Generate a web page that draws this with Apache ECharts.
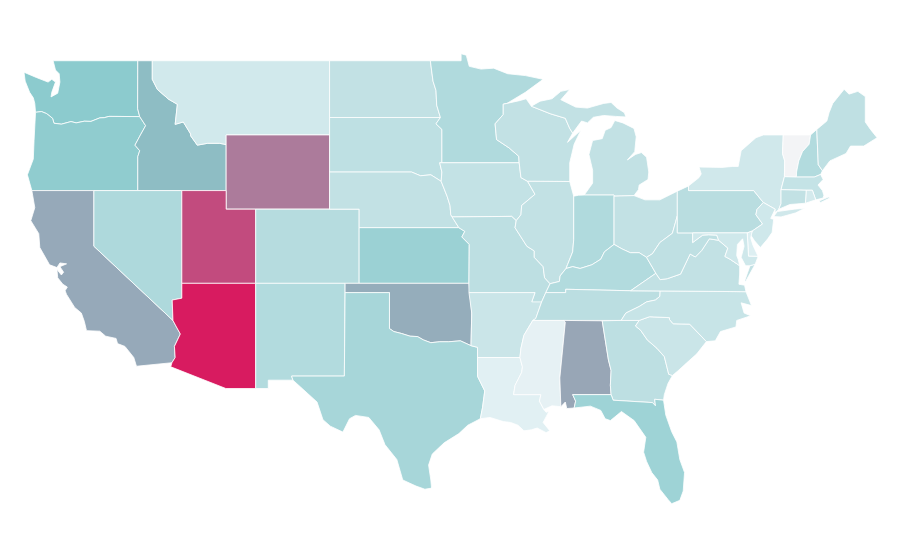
<!DOCTYPE html>
<html>
<head>
<meta charset="utf-8">
<title>USA</title>
<script src="https://cdn.jsdelivr.net/npm/echarts@6/dist/echarts.min.js"></script>
<style>
html,body{margin:0;padding:0;background:#fff}
#main{width:900px;height:560px}
</style>
</head>
<body>
<div id="main"></div>
<script>
// values, one per state
var stateNames = ['Washington','Oregon','California','Idaho','Nevada','Montana','Wyoming','Utah','Arizona','Colorado','New Mexico',
	'North Dakota','South Dakota','Nebraska','Kansas','Oklahoma','Texas','Minnesota','Iowa','Missouri','Arkansas','Louisiana',
	'Wisconsin','Illinois','Michigan','Indiana','Ohio','Kentucky','Tennessee','Mississippi','Alabama','Georgia','Florida',
	'South Carolina','North Carolina','Virginia','West Virginia','Pennsylvania','New York','Vermont','New Hampshire','Maine',
	'Massachusetts','Rhode Island','Connecticut','New Jersey','Delaware','Maryland'];
var stateValues = [48,46.5,59,53.5,33,18,72.5,86,100,29,31,
	24,25.5,24,41.5,58,36,32,23.5,26,21,12,
	24,24,24,32,24,31,27,8.5,60,26,40,
	21,22,24,25,28,18.5,0,31,25,
	23,17,24,19,13.5,19];
var colorStops = ['#f3f4f6','#e0f0f3','#bfe0e3','#a4d5d8','#88c9cc','#9c9db1','#b07296','#c4467b','#d81b60'];

// shared borders, lon/lat
var columbia = [[-118.98,46],[-119.3,45.93],[-119.6,45.92],[-120.2,45.73],[-120.65,45.74],[-121.2,45.65],[-121.55,45.72],[-122.2,45.58],[-122.7,45.63],[-122.8,45.9],[-123.2,46.15],[-123.55,46.26],[-123.95,46.22]];
var snake = [[-117.03,43.83],[-116.9,44.15],[-117.22,44.45],[-116.85,45],[-116.5,45.5],[-116.9,45.99]];
var idMt = [[-116.05,49],[-116.05,48],[-115.7,47.45],[-114.95,46.93],[-114.35,46.65],[-114.5,45.57],[-113.95,45.7],[-113.45,45.05],[-113.45,44.95],[-113,44.45],[-112.3,44.55],[-111.5,44.55],[-111.05,44.48]];
var coloradoR = [[-114.72,32.72],[-114.5,33],[-114.55,33.6],[-114.15,34.27],[-114.45,34.7],[-114.65,35]];
var redRiver = [[-94.48,33.64],[-95.2,33.9],[-96,33.85],[-96.6,33.85],[-97.2,33.8],[-97.7,33.95],[-98.1,34.13],[-98.6,34.15],[-99.2,34.3],[-99.7,34.4],[-100,34.56]];
var sabine = [[-94.04,31.99],[-93.55,31.2],[-93.7,30.3],[-93.85,29.7]];
var redNd = [[-97.23,49],[-97.15,48.5],[-97.05,47.9],[-96.85,47.4],[-96.8,46.6],[-96.55,45.94]];
var mnSd = [[-96.55,45.94],[-96.85,45.6],[-96.45,45.3],[-96.45,43.5]];
var missouriNe = [[-98.5,43],[-97.9,42.8],[-97.2,42.85],[-96.5,42.5]];
var iaNe = [[-96.5,42.5],[-96.1,41.7],[-95.9,41.2],[-95.85,40.7],[-95.76,40.58]];
var moKs = [[-95.76,40.58],[-95.3,40],[-94.9,39.8],[-95.1,39.5],[-94.6,39.1],[-94.62,37]];
var mnWi = [[-92.05,46.7],[-92.3,46.66],[-92.3,46.1],[-92.85,45.6],[-92.75,44.75],[-91.9,44.3],[-91.25,43.85],[-91.22,43.5]];
var wiIa = [[-91.22,43.5],[-91.1,42.7],[-90.65,42.5]];
var iaIl = [[-90.65,42.5],[-90.15,41.8],[-91.05,41.2],[-91.1,40.7],[-91.42,40.38]];
var moIl = [[-91.42,40.38],[-91.5,40],[-91.1,39.5],[-90.7,39],[-90.2,38.75],[-90.2,38.4],[-89.6,37.9],[-89.5,37.3],[-89.13,36.98]];
var ohioIl = [[-89.13,36.98],[-88.5,37.1],[-88.45,37.4],[-88.05,37.8]];
var ohioIn = [[-88.05,37.8],[-87.6,37.9],[-87.1,37.8],[-86.3,38],[-85.7,38.3],[-85.45,38.7],[-84.8,39.1]];
var ohioOhKy = [[-84.8,39.1],[-84.25,38.85],[-83.7,38.65],[-83.1,38.65],[-82.6,38.4]];
var ohioOhWv = [[-82.6,38.4],[-82.2,38.6],[-81.7,39.2],[-80.85,39.7],[-80.52,40.64]];
var wabash = [[-87.53,39.35],[-87.6,38.7],[-87.95,38],[-88.05,37.8]];
var moTnAr = [[-89.42,36.5],[-89.7,36],[-90.1,35.1],[-90.3,35]];
var msAr = [[-90.3,35],[-90.9,34.2],[-91.1,33.5],[-91.17,33]];
var msLa = [[-91.17,33],[-91,32.5],[-91.05,32.2],[-91.5,31.5],[-91.6,31],[-89.75,31],[-89.85,30.65],[-89.55,30.2]];
var msAl = [[-88.2,35],[-88.1,34.9],[-88.47,31.9],[-88.4,30.35]];
var alGa = [[-85.6,34.98],[-85.18,32.87],[-85,32.3],[-85.05,31.5],[-85,31]];
var alFl = [[-85,31],[-87.6,31],[-87.4,30.65],[-87.5,30.28]];
var gaFl = [[-85,31],[-84.86,30.7],[-82.2,30.57],[-82,30.4],[-82.05,30.75],[-81.45,30.7]];
var gaSc = [[-83.1,35],[-83.35,34.7],[-83,34.47],[-82.55,33.95],[-81.9,33.5],[-81.4,33.05],[-81.1,32.1],[-80.85,32.03]];
var ncSc = [[-83.1,35],[-82.4,35.2],[-81.05,35.15],[-81.05,35.05],[-80.8,34.82],[-79.68,34.8],[-78.55,33.86]];
var tnNc = [[-84.32,35],[-84,35.4],[-83.1,35.75],[-82.6,36],[-82,36.1],[-81.7,36.3],[-81.68,36.59]];
var kyVa = [[-83.68,36.6],[-81.97,37.54]];
var vaWv = [[-81.97,37.54],[-81.68,37.2],[-81.2,37.25],[-80.3,37.5],[-79.65,38.58],[-79.3,38.42],[-78.87,38.77],[-78.35,39.4],[-77.72,39.32]];
var mdWv = [[-79.48,39.2],[-78.8,39.6],[-78.4,39.62],[-77.85,39.6],[-77.72,39.32]];
var potomac = [[-77.72,39.32],[-77.1,38.9],[-77.3,38.45],[-76.95,38.3],[-76.3,37.95]];
var paNj = [[-74.7,41.36],[-75.13,40.98],[-75.2,40.7],[-74.75,40.2],[-75.45,39.82]];
var vtNh = [[-71.5,45],[-71.6,44.5],[-72.05,44.1],[-72.3,43.6],[-72.45,43],[-72.46,42.73]];
var nyVt = [[-73.35,45],[-73.4,44],[-73.25,43.6],[-73.27,42.75]];
var nyNe = [[-73.27,42.75],[-73.5,42.05],[-73.5,41.3],[-73.65,41]];
var meNh = [[-71.08,45.3],[-70.98,43.4],[-70.7,43.07]];

function rev(c) { return c.slice().reverse(); }
function ring() { return [].concat.apply([], arguments); }

var stateShapes = {
	'Washington': [ring([[-122.76,49],[-117.03,49],[-117.04,46.42],[-116.9,45.99]], columbia, [[-124,46.7],[-124.1,47],[-124.35,47.3],[-124.65,47.9],[-124.73,48.38],[-123.9,48.1],[-123.1,47.85],[-122.85,48],[-122.6,47.85],[-122.85,47.3],[-122.9,47.05],[-122.45,47.25],[-122.3,47.85],[-122.35,48.3],[-122.6,48.5]])],
	'Oregon': [ring([[-124.2,42],[-124.5,42.85],[-124.1,43.7],[-124.05,44.7]], rev(columbia), [[-116.9,45.99]], rev(snake), [[-117.03,42]])],
	'California': [ring([[-124.2,42],[-120,42],[-120,39]], [[-114.65,35]], rev(coloradoR), [[-117.12,32.53],[-117.3,33],[-117.9,33.6],[-118.4,33.75],[-118.5,34.03],[-119.2,34.15],[-119.6,34.42],[-120.5,34.45],[-120.65,34.95],[-120.85,35.4],[-121.3,35.7],[-121.85,36.4],[-121.95,36.6],[-121.8,36.8],[-122.1,36.95],[-122.45,37.3],[-122.5,37.75],[-122.2,37.45],[-122.05,37.6],[-122.3,37.9],[-121.85,38.05],[-122.3,38.1],[-122.5,37.85],[-123,38],[-123.66,38.93],[-123.73,39.68],[-124.27,40.38],[-124,41.08]])],
	'Idaho': [ring([[-117.03,49]], idMt, [[-111.05,42],[-117.03,42]], snake, [[-117.04,46.42]])],
	'Nevada': [[[-120,42],[-114.05,42],[-114.05,36.2],[-114.7,36.1],[-114.65,35],[-120,39]]],
	'Montana': [ring(idMt, [[-111.05,45],[-104.05,45],[-104.05,49]])],
	'Wyoming': [[[-111.05,45],[-104.05,45],[-104.05,41],[-111.05,41]]],
	'Utah': [[[-114.05,42],[-111.05,42],[-111.05,41],[-109.05,41],[-109.05,37],[-114.05,37]]],
	'Arizona': [ring([[-114.05,37],[-109.05,37],[-109.05,31.33],[-111.07,31.33],[-114.8,32.5]], coloradoR, [[-114.7,36.1],[-114.05,36.2]])],
	'Colorado': [[[-109.05,41],[-102.05,41],[-102.05,37],[-109.05,37]]],
	'New Mexico': [[[-109.05,37],[-103,37],[-103.05,32],[-106.62,32],[-106.53,31.78],[-108.2,31.78],[-108.2,31.33],[-109.05,31.33]]],
	'North Dakota': [ring([[-104.05,49]], redNd, [[-104.05,45.94]])],
	'South Dakota': [ring([[-104.05,45.94]], mnSd, [[-96.6,43.5],[-96.45,43]], rev(missouriNe), [[-104.05,43]])],
	'Nebraska': [ring([[-104.05,43]], missouriNe, iaNe, [[-95.3,40],[-102.05,40],[-102.05,41],[-104.05,41]])],
	'Kansas': [ring([[-102.05,40]], moKs.slice(1), [[-102.05,37]])],
	'Oklahoma': [ring([[-103,37],[-94.62,37],[-94.43,35.4]], redRiver, [[-100,36.5],[-103,36.5]])],
	'Texas': [ring([[-106.62,32],[-103.05,32],[-103,36.5],[-100,36.5]], rev(redRiver), [[-94.04,33.55],[-94.04,33]], sabine, [[-94.7,29.35],[-95.3,28.9],[-96.3,28.4],[-97.1,27.8],[-97.35,27.2],[-97.2,26.4],[-97.15,25.96],[-97.6,25.9],[-98.2,26.07],[-99.1,26.4],[-99.5,27.5],[-100.3,28.3],[-100.7,29.1],[-101.4,29.77],[-102.3,29.88],[-102.7,29.7],[-103.15,28.98],[-104,29.3],[-104.5,29.65],[-104.9,30.6],[-106,31.4],[-106.53,31.78]])],
	'Minnesota': [ring(redNd.slice(0,1), [[-95.15,49],[-95.15,49.38],[-94.8,49.3],[-94.6,48.7],[-93.8,48.55],[-92.95,48.6],[-92,48.3],[-90.8,48.2],[-89.6,48],[-90.8,47.3]], mnWi, [[-96.45,43.5]], rev(mnSd), rev(redNd).slice(1))],
	'Iowa': [ring([[-96.45,43.5]], wiIa, iaIl, [[-91.73,40.61]], rev(iaNe), [[-96.45,43],[-96.6,43.5]])],
	'Missouri': [ring([[-95.76,40.58],[-91.73,40.61]], moIl, moTnAr, [[-90.37,36],[-90.15,36.5],[-94.62,36.5]], rev(moKs))],
	'Arkansas': [ring([[-94.62,36.5],[-90.15,36.5],[-90.37,36],[-89.7,36]], moTnAr.slice(2), msAr, [[-94.04,33],[-94.04,33.55],[-94.48,33.64],[-94.43,35.4]])],
	'Louisiana': [ring([[-94.04,33]], msLa, [[-89.4,30.05],[-89.2,30.1],[-89.4,29.8],[-89.6,29.5],[-89.15,29.05],[-89.4,28.95],[-90,29.2],[-90.4,29.1],[-90.9,29.05],[-91.3,29.35],[-91.8,29.5],[-92.3,29.55],[-93.2,29.77]], rev(sabine))],
	'Wisconsin': [ring(mnWi, wiIa.slice(1), [[-87.8,42.49],[-87.8,43.5],[-87.5,44.5],[-87.05,45.25],[-87.95,44.6],[-87.6,45.1],[-87.8,45.35],[-88.1,45.9],[-89.1,46.14],[-90.4,46.55],[-90.75,46.95],[-91.2,46.85]])],
	'Illinois': [ring(iaIl.slice(0,1), [[-87.8,42.49],[-87.53,41.7]], wabash, rev(ohioIl), rev(moIl), rev(iaIl).slice(1))],
	'Michigan': [
		[[-90.4,46.55],[-89.8,46.82],[-89,46.95],[-88.4,47.35],[-87.8,47.45],[-88.4,46.9],[-87.4,46.5],[-86.6,46.45],[-85.5,46.7],[-85,46.75],[-84.6,46.45],[-84.1,46.2],[-84,45.97],[-84.7,46],[-85.5,46.05],[-86.2,45.95],[-86.6,45.65],[-87,45.75],[-87.6,45.1],[-87.8,45.35],[-88.1,45.9],[-89.1,46.14]],
		[[-86.82,41.76],[-84.8,41.76],[-84.8,41.7],[-83.45,41.73],[-83.15,42.05],[-83.1,42.3],[-82.5,42.6],[-82.45,43],[-82.6,43.8],[-82.95,44.05],[-83.35,43.95],[-83.9,43.65],[-83.4,44.1],[-83.3,44.9],[-83.45,45.35],[-84.2,45.65],[-84.75,45.78],[-85,45.4],[-85.4,45.25],[-85.6,44.8],[-86.25,44.7],[-86.5,43.95],[-86.25,43.1],[-86.25,42.4]]
	],
	'Indiana': [ring([[-87.53,41.7],[-87.2,41.75],[-86.82,41.76],[-84.8,41.76]], rev(ohioIn), rev(wabash))],
	'Ohio': [ring([[-84.8,41.7],[-83.45,41.73],[-82.7,41.5],[-81.7,41.5],[-80.52,41.97]], rev(ohioOhWv), rev(ohioOhKy))],
	'Kentucky': [ring([[-89.42,36.5]], ohioIl, ohioIn, ohioOhKy, rev(kyVa), [[-88.07,36.68],[-88.07,36.5]])],
	'Tennessee': [ring(rev(moTnAr), [[-89.42,36.5],[-88.07,36.5],[-88.07,36.68],[-83.68,36.6],[-81.68,36.59]], rev(tnNc), [[-90.3,35]])],
	'Mississippi': [ring(rev(msLa), rev(msAr), msAl, [[-89,30.4]])],
	'Alabama': [ring(msAl, [[-88.1,30.6],[-88,30.25],[-87.5,30.28]], rev(alFl), rev(alGa))],
	'Georgia': [ring(alGa, gaFl, [[-81.4,31],[-81.15,31.6]], rev(gaSc), [[-84.32,35]])],
	'Florida': [ring(rev(alFl), gaFl, [[-81.3,29.9],[-80.9,29],[-80.55,28.45],[-80.35,27.5],[-80.03,26.8],[-80.12,25.8],[-80.35,25.3],[-80.9,25.12],[-81.15,25.35],[-81.7,25.9],[-81.85,26.4],[-82.25,26.8],[-82.6,27.4],[-82.8,27.9],[-82.65,28.7],[-83.44,29.6],[-84.3,30.09],[-85.05,29.6],[-85.4,29.7],[-85.7,30.15],[-86.4,30.38]])],
	'South Carolina': [ring(ncSc, [[-79.2,33.2],[-79.9,32.7],[-80.45,32.3]], rev(gaSc))],
	'North Carolina': [ring(tnNc, [[-75.87,36.55],[-75.5,35.8],[-76.2,35.95],[-76,35.4],[-75.55,35.25],[-76.5,35],[-76.55,34.65],[-77.6,34.4],[-77.95,33.9]], rev(ncSc), [[-84.32,35]])],
	'Virginia': [
		ring([[-83.68,36.6]], kyVa, vaWv, potomac, [[-76.3,37.5],[-76.35,36.95],[-75.97,36.9],[-75.87,36.55],[-81.68,36.59]]),
		[[-75.95,37.15],[-75.6,37.95],[-75.25,38.03],[-75.9,37.1]]
	],
	'West Virginia': [ring(rev(ohioOhWv), vaWv, rev(mdWv), [[-79.48,39.72],[-80.52,39.72]])],
	'Pennsylvania': [ring([[-80.52,41.97],[-79.76,42.25],[-79.76,42],[-75.35,42]], paNj, [[-75.79,39.72],[-80.52,39.72]])],
	'New York': [
		ring([[-79.76,42.25],[-79.05,42.7],[-78.9,42.9],[-79.05,43.27],[-77.5,43.25],[-76.8,43.3],[-76.4,43.3],[-76.2,44.15],[-75.2,44.85],[-74.7,45]], nyVt, nyNe, [[-73.9,40.8],[-73.9,41],[-74.7,41.36],[-75.35,42],[-79.76,42]]),
		[[-74,40.6],[-73.75,40.87],[-72.6,41],[-71.9,41.05],[-72.5,40.8],[-73.5,40.58]]
	],
	'Vermont': [ring(nyVt, rev(vtNh))],
	'New Hampshire': [ring(vtNh, [[-71.25,42.73],[-70.82,42.87]], rev(meNh))],
	'Maine': [ring(meNh, [[-70.2,43.6],[-69.1,44],[-68.8,44.4],[-67.9,44.4],[-67,44.85],[-67.45,45.3],[-67.8,45.7],[-67.8,47.07],[-68.3,47.35],[-68.9,47.2],[-69.23,47.46],[-70,46.7],[-70.25,46.2],[-70.4,45.75]])],
	'Massachusetts': [
		[[-73.27,42.75],[-72.46,42.73],[-71.25,42.73],[-70.82,42.87],[-70.65,42.6],[-71,42.3],[-70.7,42],[-70.6,41.75],[-70.65,41.6],[-71.15,41.5],[-71.38,42.02],[-71.8,42.02],[-73.5,42.05]],
		[[-70.9,41.45],[-70.3,41.65],[-70.2,41.6],[-70.85,41.35]]
	],
	'Rhode Island': [[[-71.8,42.02],[-71.38,42.02],[-71.15,41.5],[-71.85,41.32]]],
	'Connecticut': [[[-73.5,42.05],[-71.8,42.02],[-71.85,41.32],[-72.9,41.25],[-73.65,41],[-73.5,41.3]]],
	'New Jersey': [ring(paNj.slice(0,1), [[-73.9,41],[-74.2,40.5],[-74,40.45],[-74.1,39.75],[-74.4,39.4],[-74.9,38.93],[-75.3,39.3],[-75.55,39.6]], rev(paNj).slice(0,4))],
	'Delaware': [[[-75.79,39.72],[-75.45,39.82],[-75.55,39.45],[-75.4,39.05],[-75.05,38.45],[-75.7,38.46]]],
	'Maryland': [ring([[-79.48,39.72],[-75.79,39.72],[-75.7,38.46],[-75.05,38.45],[-75.25,38.03],[-75.6,37.95],[-75.9,37.95],[-76.2,38.4],[-76,39],[-76.1,39.4],[-76.45,39.1],[-76.5,38.5],[-76.4,38.3],[-76.3,37.95]], rev(potomac), rev(mdWv))]
};

var usaGeo = {
	type: 'FeatureCollection',
	features: stateNames.map(function (name) {
		return {
			type: 'Feature',
			properties: {name: name},
			geometry: {type: 'MultiPolygon', coordinates: stateShapes[name].map(function (r) { return [r]; })}
		};
	})
};
echarts.registerMap('USA', usaGeo);

var myChart = echarts.init(document.getElementById('main'));
var option = {
	animation: false,
	visualMap: {
		show: false,
		min: 0,
		max: 100,
		inRange: {color: colorStops}
	},
	series: [
		{
			type: 'map',
			map: 'USA',
			roam: false,
			silent: true,
			aspectScale: 0.796,
			boundingCoords: [[-124.73, 49.38], [-66.6, 25.12]],
			left: 24,
			top: 53.7,
			width: 859,
			height: 450,
			label: {show: false},
			itemStyle: {borderColor: '#fff', borderWidth: 0.8},
			data: stateNames.map(function (name, i) {
				return {name: name, value: stateValues[i]};
			})
		}
	]
};
myChart.setOption(option);
</script>
</body>
</html>
